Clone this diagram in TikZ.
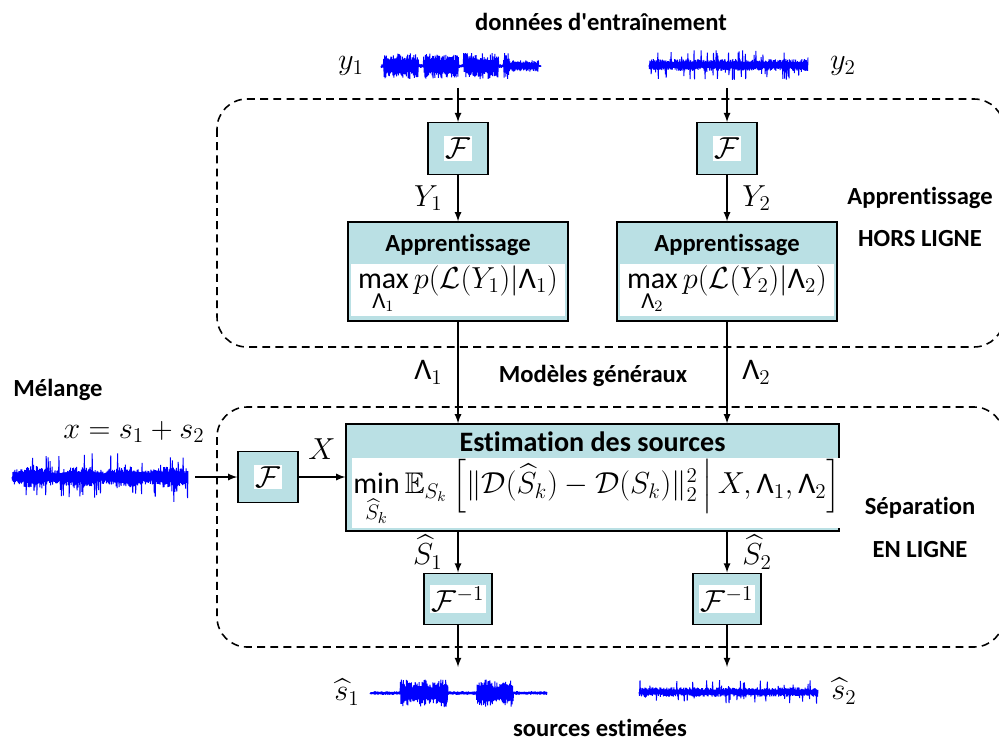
\documentclass[tikz,border=0pt]{standalone}
\usepackage{amsmath}
\usepackage{amssymb}
\usepackage[no-math]{fontspec}
\setmainfont{Carlito}[Ligatures=NoCommon]
\usetikzlibrary{positioning, arrows}
\definecolor{boxblue}{RGB}{186,224,228}
\definecolor{waveblue}{RGB}{0,0,255}
\setlength{\fboxsep}{1pt}
\newcommand{\sLam}{\text{Λ}} % sans capital lambda
\newcommand{\undersub}[1]{\mbox{\fontsize{13}{15}\selectfont$#1$}} % larger limit below max/min
% a waveform: x0, x1, y, amplitude, envelope
\newcommand{\drawwave}[5]{%
  \draw[wave] (#1,#3) \foreach \i in {1,...,360}{
    -- ({#1+\i/360*(#2-#1)}, {#3+(2*mod(\i,2)-1)*#4*(0.45+0.55*rnd)*#5(\i/360)})
  };
}
\tikzset{
    >=latex, % filled arrow heads
    block/.style={draw, fill=boxblue, line width=0.8pt}, % the blue boxes
    fourier/.style={block, minimum width=1.2cm, minimum height=1.03cm, font=\fontsize{17}{20}\selectfont},
    eqn/.style={fill=white, inner sep=1pt, font=\fontsize{17}{20}\selectfont}, % formula on white
    phase/.style={draw, dash pattern=on 4.5pt off 3pt, line width=0.9pt, rounded corners=0.6cm},
    bold/.style={font=\fontsize{14}{16}\selectfont\bfseries},
    mathlbl/.style={font=\fontsize{17}{20}\selectfont},
    wave/.style={waveblue, line width=0.55pt, line join=bevel},
    flow/.style={->, line width=0.8pt},
}

\begin{document}
\begin{tikzpicture}[x=0.02cm, y=-0.02cm,
    declare function={
      talk(\u)=(0.15+0.85*(abs(sin(\u*720))>0.2))*(1-0.55*(\u>0.8));
      talkb(\u)=0.13+0.87*((\u>0.17)*(\u<0.44)+(\u>0.6)*(\u<0.81))*(0.7+0.3*abs(sin(\u*1500)));
      clicks(\u)=0.4+0.6*(rnd>0.86);
      mixed(\u)=0.32+0.68*(rnd>0.86)+0.2*abs(sin(\u*700));
    }]
    \useasboundingbox (0,0) rectangle (999,743);
    \pgfmathsetseed{11}

    % the two phases
    \draw[phase] (217,99) rectangle (1004,347);
    \draw[phase] (217,407) rectangle (1004,647);

    % training data
    \node[bold] (train) at (601,22) {données d\textquotesingle entraînement};
    \node[mathlbl] (y1) at (351,66) {$y_1$};
    \node[mathlbl] (y2) at (843,66) {$y_2$};
    \drawwave{381}{541}{66}{13}{talk}
    \drawwave{649}{808}{65}{15}{clicks}
    \coordinate (y1out) at (458,88);
    \coordinate (y2out) at (727,88);

    \node[fourier] (F1) at (458,148.5) {\colorbox{white}{$\mathcal{F}$}};
    \node[fourier] (F2) at (727,148.5) {\colorbox{white}{$\mathcal{F}$}};

    \node[block, minimum width=4.4cm, minimum height=1.98cm] (L1) at (458,271.5) {};
    \node[bold] (L1title) at (458,245) {Apprentissage};
    \node[eqn, minimum width=4.3cm] (L1eq) at (458,290) {$\mathop{\text{max}}\limits_{\undersub{\sLam_1}} p(\mathcal{L}(Y_1)|\sLam_1)$};
    \node[block, minimum width=4.4cm, minimum height=1.98cm] (L2) at (727,271.5) {};
    \node[bold] (L2title) at (727,245) {Apprentissage};
    \node[eqn, minimum width=4.3cm] (L2eq) at (727,290) {$\mathop{\text{max}}\limits_{\undersub{\sLam_2}} p(\mathcal{L}(Y_2)|\sLam_2)$};

    \node[bold] (off1) at (920,198) {Apprentissage};
    \node[bold] (off2) at (920,239) {HORS LIGNE};

    % separation
    \node[bold] (models) at (593,376) {Modèles généraux};
    \node[bold] (mixlbl) at (58,390) {Mélange};
    \node[mathlbl] (mixeq) at (134,432) {$x=s_1+s_2$};
    \drawwave{12}{188}{477}{21}{mixed}
    \coordinate (mixout) at (195,477);
    \node[fourier] (F0) at (268,477) {\colorbox{white}{$\mathcal{F}$}};

    \node[block, minimum width=9.86cm, minimum height=2.14cm] (Est) at (592.5,477.5) {};
    \node[bold, font=\fontsize{16}{18}\selectfont\bfseries] (Esttitle) at (592.5,442) {Estimation des sources};
    \node[eqn, minimum width=9.3cm] (Esteq) at (597,493) {$\mathop{\text{min}}\limits_{\undersub{\widehat{S}_k}}\mathbb{E}_{S_k}\left[\|\mathcal{D}(\widehat{S}_k)-\mathcal{D}(S_k)\|_2^2\,\middle|\,X,\sLam_1,\sLam_2\right]$};

    \node[bold] (on1) at (920,508) {Séparation};
    \node[bold] (on2) at (920,550) {EN LIGNE};

    \node[fourier] (Fi1) at (458,599) {\colorbox{white}{$\mathcal{F}^{-1}$}};
    \node[fourier] (Fi2) at (727,599) {\colorbox{white}{$\mathcal{F}^{-1}$}};

    % estimated sources
    \coordinate (s1in) at (458,667);
    \coordinate (s2in) at (727,667);
    \node[mathlbl] (s1hat) at (347,692) {$\widehat{s}_1$};
    \node[mathlbl] (s2hat) at (844,691) {$\widehat{s}_2$};
    \drawwave{370}{547}{693}{14}{talkb}
    \drawwave{639}{818}{692}{12}{clicks}
    \node[bold] (est) at (600,728) {sources estimées};

    \draw[flow] (y1out) -- (F1);
    \draw[flow] (y2out) -- (F2);
    \draw[flow] (F1) -- node[left=5pt, mathlbl] {$Y_1$} (L1);
    \draw[flow] (F2) -- node[right=5pt, mathlbl] {$Y_2$} (L2);
    \draw[flow] (L1) -- node[left=5pt, mathlbl] {$\sLam_1$} (L1 |- Est.north);
    \draw[flow] (L2) -- node[right=5pt, mathlbl] {$\sLam_2$} (L2 |- Est.north);
    \draw[flow] (mixout) -- (F0);
    \draw[flow] (F0) -- node[above=6pt, mathlbl] {$X$} (F0 -| Est.west);
    \draw[flow] (Fi1 |- Est.south) -- node[left=5pt, mathlbl] {$\widehat{S}_1$} (Fi1);
    \draw[flow] (Fi2 |- Est.south) -- node[right=5pt, mathlbl] {$\widehat{S}_2$} (Fi2);
    \draw[flow] (Fi1) -- (s1in);
    \draw[flow] (Fi2) -- (s2in);
\end{tikzpicture}
\end{document}
